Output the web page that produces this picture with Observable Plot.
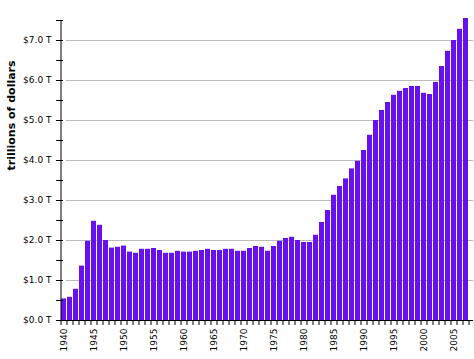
<!DOCTYPE html>
<html><head><meta charset="utf-8">
<script src="https://cdn.jsdelivr.net/npm/d3@7"></script>
<script src="https://cdn.jsdelivr.net/npm/@observablehq/plot@0.6"></script>
<style>body{margin:0;background:#fff}</style>
</head><body><div id="chart"></div>
<script>
const years = [1940,1941,1942,1943,1944,1945,1946,1947,1948,1949,
  1950,1951,1952,1953,1954,1955,1956,1957,1958,1959,
  1960,1961,1962,1963,1964,1965,1966,1967,1968,1969,
  1970,1971,1972,1973,1974,1975,1976,1977,1978,1979,
  1980,1981,1982,1983,1984,1985,1986,1987,1988,1989,
  1990,1991,1992,1993,1994,1995,1996,1997,1998,1999,
  2000,2001,2002,2003,2004,2005,2006,2007];
const debt = [0.54,0.58,0.78,1.36,1.98,2.48,2.38,2.00,1.81,1.83,
  1.86,1.71,1.68,1.78,1.78,1.80,1.75,1.68,1.68,1.73,
  1.71,1.71,1.73,1.75,1.78,1.75,1.75,1.78,1.78,1.73,
  1.73,1.80,1.85,1.83,1.73,1.85,1.98,2.05,2.08,2.00,
  1.95,1.95,2.13,2.45,2.75,3.13,3.35,3.54,3.79,3.98,
  4.25,4.63,5.00,5.25,5.45,5.63,5.73,5.80,5.85,5.85,
  5.68,5.65,5.95,6.35,6.73,7.00,7.28,7.55];
const yearLabels = [1940,1945,1950,1955,1960,1965,1970,1975,1980,1985,1990,1995,2000,2005];
const yTicks = [0,1,2,3,4,5,6,7];
const yMinorTicks = [0,0.5,1,1.5,2,2.5,3,3.5,4,4.5,5,5.5,6,6.5,7,7.5];
const yLabel = "trillions of dollars";

const data = years.map((y, i) => ({year: y, value: debt[i]}));

const chart = Plot.plot({
  width: 474, height: 359,
  marginLeft: 60, marginRight: 1, marginTop: 20, marginBottom: 39,
  style: {fontFamily: "DejaVu Sans", fontSize: "9px", background: "#fff", color: "#000"},
  x: {type: "band", domain: years, range: [60, 468], paddingInner: 0.2, paddingOuter: 0.1, axis: null, label: null},
  y: {domain: [0, 7.5], axis: null, label: null},
  marks: [
    Plot.gridY(yTicks.filter(d => d > 0), {stroke: "#bbb", strokeOpacity: 1, insetLeft: 6}),
    Plot.barY(data, {x: "year", y: "value", fill: "#6611ee"}),
    Plot.ruleY([0], {stroke: "#000"}),
    Plot.ruleX([years[0]], {dx: -3, stroke: "#000"}),
    Plot.axisY({ticks: yMinorTicks, tickSize: 7, dx: 3, tickFormat: () => "", stroke: "#000", label: null}),
    Plot.axisY({ticks: yTicks, tickSize: 0, tickPadding: 9, tickFormat: d => `$${d.toFixed(1)} T`, fill: "#000", label: null}),
    Plot.axisX({ticks: years, tickSize: 5, dx: -3, tickFormat: () => "", stroke: "#000", label: null}),
    Plot.axisX({ticks: [years[years.length - 1]], tickSize: 5, dx: 3, tickFormat: () => "", stroke: "#000", label: null}),
    Plot.axisX({ticks: yearLabels, tickSize: 0, tickPadding: 8, tickRotate: -90, tickFormat: d => String(d), fill: "#000", label: null}),
    Plot.text([yLabel], {frameAnchor: "left", dx: -49, rotate: -90, fontWeight: "bold", fontSize: 11, fill: "#000"})
  ]
});
document.getElementById("chart").appendChild(chart);
</script>
</body></html>
